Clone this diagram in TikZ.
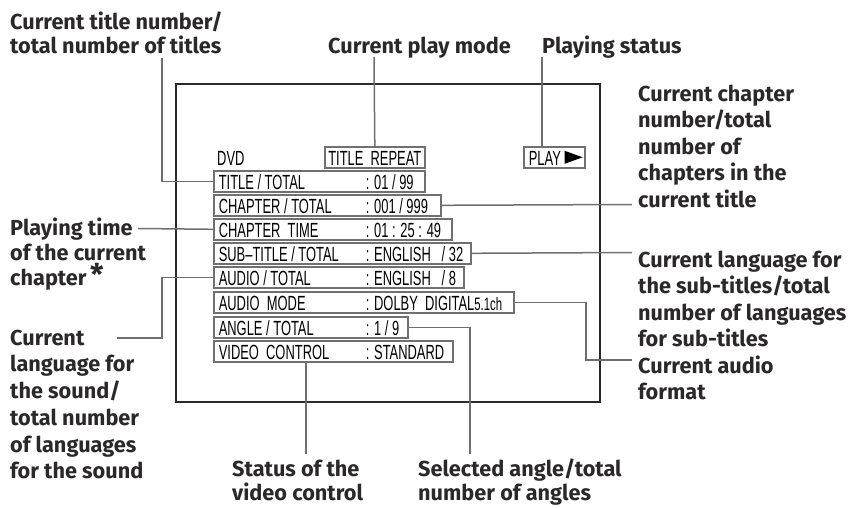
\documentclass[tikz,border=0pt]{standalone}
\usepackage{fontspec}
\setmainfont{Fira Sans}
\newfontfamily\osdfont[FakeStretch=0.63,Ligatures=TeX]{Liberation Sans}
\definecolor{leadgray}{HTML}{6E6E6E}
\definecolor{boxgray}{HTML}{707070}
\definecolor{framecol}{HTML}{2A2A2A}
\definecolor{labelcol}{HTML}{2B2829}
\newcommand\osdrow[3]{\makebox[#1][l]{\makebox[147pt][l]{#2}: #3}}
\tikzset{
  lead/.style={draw=leadgray, line width=1.5pt},
  screenframe/.style={draw=framecol, line width=1.4pt, minimum width=424pt, minimum height=318pt, inner sep=0pt},
  osdbox/.style={draw=boxgray, line width=1.6pt, anchor=north west, inner xsep=5pt, inner ysep=2pt,
    text height=17pt, text depth=0pt, fill=white, font=\osdfont\fontsize{20.5}{21}\selectfont},
  osdtext/.style={anchor=base west, inner sep=0pt, font=\osdfont\fontsize{20.5}{21}\selectfont},
  lbl/.style={anchor=north west, inner sep=0pt, align=left, text=labelcol,
    font=\bfseries\fontsize{21.7}{#1}\selectfont},
  lbl/.default=26.5
}
\begin{document}
\begin{tikzpicture}[x=1pt,y=-1pt]
\useasboundingbox (0,0) rectangle (861,508);
% screen frame
\node[screenframe] (screen) at (388,243) {};
% free ends of connectors
\coordinate (cTL) at (162,58);
\coordinate (cPM) at (374,57);
\coordinate (cPS) at (542,57);
\coordinate (cCh) at (632,204.5);
\coordinate (cTime) at (138,228.5);
\coordinate (cSub) at (632,252.5);
\coordinate (cAu) at (117,338);
\coordinate (cModeKnee) at (586,360);
\coordinate (cMode) at (632,360);
\coordinate (cAng) at (470,454);
\coordinate (cVid) at (306,454);
% on-screen items
\node[osdtext] (dvd) at (217,165) {DVD};
\node[osdbox] (repeat) at (324,146) {\makebox[90pt][c]{TITLE\ \ REPEAT}};
\node[osdbox] (play) at (523,146) {\makebox[51pt][l]{PLAY}};
\fill[black] (play.east) ++(-21,-6.5) -- ++(0,13) -- ++(18,-6.5) -- cycle;
\node[osdbox] (title) at (213,170) {\osdrow{201pt}{TITLE / TOTAL}{01 / 99}};
\node[osdbox] (chap)  at (213,194) {\osdrow{217pt}{CHAPTER / TOTAL}{001 / 999}};
\node[osdbox] (time)  at (213,218) {\osdrow{228pt}{CHAPTER\ \ TIME}{01 : 25 : 49}};
\node[osdbox] (sub)   at (213,242) {\osdrow{247pt}{SUB–TITLE / TOTAL}{ENGLISH\ \ \ / 32}};
\node[osdbox] (audio) at (213,266) {\osdrow{240pt}{AUDIO / TOTAL}{ENGLISH\ \ \ / 8}};
\node[osdbox] (mode)  at (213,291) {\osdrow{290pt}{AUDIO\ \ MODE}{DOLBY\ \ DIGITAL{\fontsize{18}{18}\selectfont 5.1ch}}};
\node[osdbox] (angle) at (213,316) {\osdrow{184pt}{ANGLE / TOTAL}{1 / 9}};
\node[osdbox] (video) at (213,340) {\osdrow{229pt}{VIDEO\ \ CONTROL}{STANDARD}};
% connectors
\draw[lead] (cTL) |- (title.west);
\draw[lead] (cPM) -- (repeat.north);
\draw[lead] (cPS) -- (cPS |- play.north);
\draw[lead] (chap.east) -- (cCh);
\draw[lead] (cTime) -- (time.west);
\draw[lead] (sub.east) -- (cSub);
\draw[lead] (cAu) -- ++(45,0) |- (audio.west);
\draw[lead] (mode.east) -| (cModeKnee) -- (cMode);
\draw[lead] (angle.east) -| (cAng);
\draw[lead] (cVid |- video.south) -- (cVid);
% labels
\node[lbl=24] (lTL) at (10,11) {\rule{0pt}{18pt}Current title number/\\total number of titles};
\node[lbl] (lPM) at (328,35) {\rule{0pt}{18pt}Current play mode};
\node[lbl] (lPS) at (542,35) {\rule{0pt}{18pt}Playing status};
\node[lbl] (lCh) at (638,83) {\rule{0pt}{18pt}Current chapter\\number/total\\number of\\chapters in the\\current title};
\node[lbl] (lSub) at (638,249) {\rule{0pt}{18pt}Current language for\\the sub-titles/total\\number of languages\\for sub-titles};
\node[lbl] (lMode) at (638,355) {\rule{0pt}{18pt}Current audio\\format};
\node[lbl=25] (lTime) at (10,217) {\rule{0pt}{18pt}Playing time\\of the current\\chapter\,{\fontsize{30}{30}\selectfont *}};
\node[lbl=26.7] (lAu) at (10,327) {\rule{0pt}{18pt}Current\\language for\\the sound/\\total number\\of languages\\for the sound};
\node[lbl=24] (lVid) at (232,458) {\rule{0pt}{18pt}Status of the\\video control};
\node[lbl=24] (lAng) at (418,458) {\rule{0pt}{18pt}Selected angle/total\\number of angles};
\end{tikzpicture}
\end{document}
